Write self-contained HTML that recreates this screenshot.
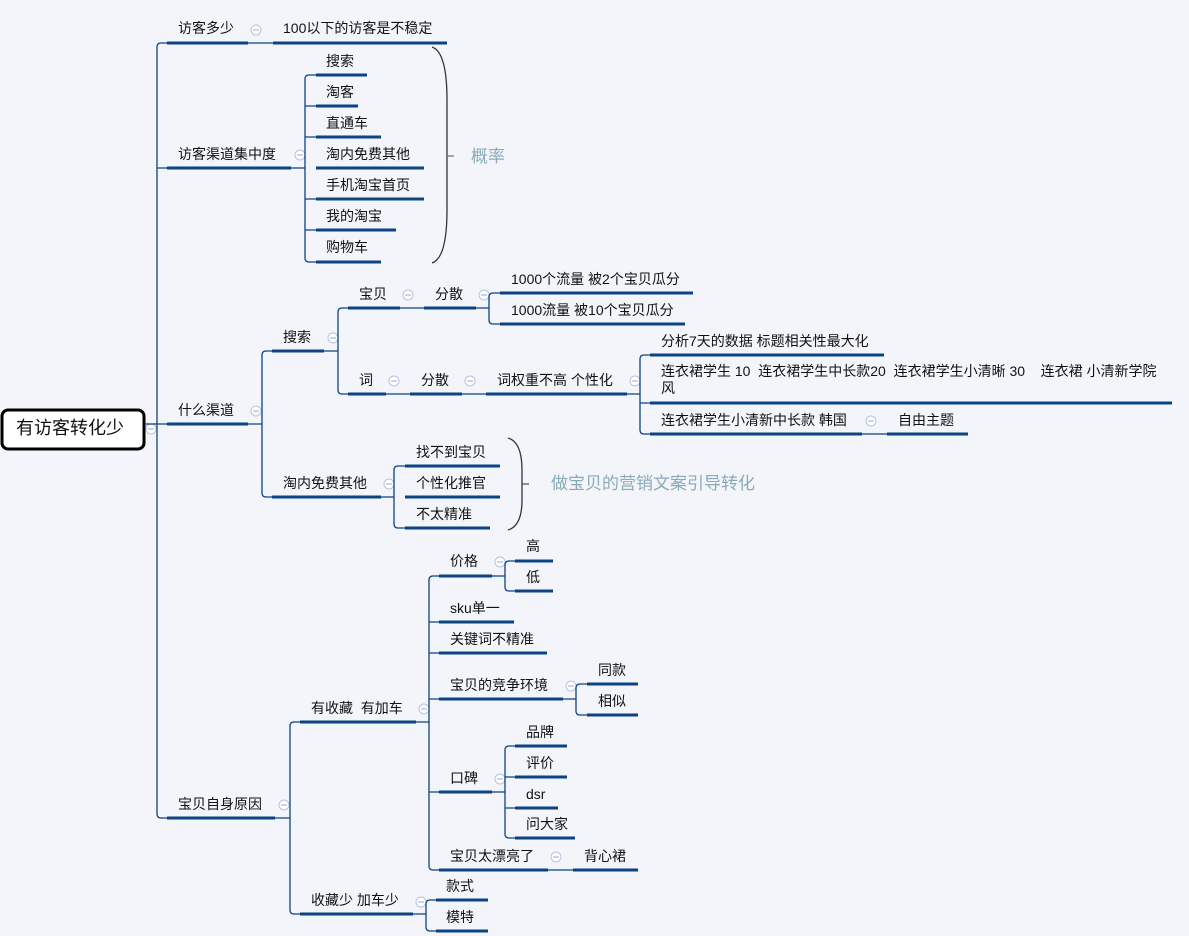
<!DOCTYPE html>
<html><head><meta charset="utf-8">
<style>
html,body{margin:0;padding:0;background:#f3f5fa;}
svg{display:block;}
text{font-family:"Liberation Sans","Noto Sans CJK SC",sans-serif;font-size:14px;fill:#111;}
.u{stroke:#0b4383;stroke-width:3;fill:none;}
.c{stroke:#0b4383;stroke-width:1.3;fill:none;}
.ic circle{fill:#fff;stroke:#b4c2e4;stroke-width:1;}
.ic line{stroke:#9aaad4;stroke-width:1;}
.big{font-size:17px;fill:#8aaab8;}
</style></head><body>
<svg width="1189" height="936" viewBox="0 0 1189 936" xmlns="http://www.w3.org/2000/svg">
<defs>
<g id="mi" class="ic"><circle cx="0" cy="0" r="5"/><line x1="-3" y1="0" x2="3" y2="0"/></g>
</defs>
<rect x="2" y="410" width="142" height="39" rx="6" fill="#fff" stroke="#000" stroke-width="3"/>
<text x="16" y="434" style="font-size:18px">有访客转化少</text>
<use href="#mi" x="151" y="429"/>
<path class="c" d="M145 424 L157 424"/>
<path class="c" d="M167 43 L161 43 Q157 43 157 47 L157 814 Q157 818 161 818 L167 818"/>
<path class="c" d="M157 168 L167 168 M157 424 L167 424"/>

<path class="u" d="M167 43 L248 43"/><text x="178" y="33">访客多少</text>
<use href="#mi" x="256" y="30"/>
<path class="c" d="M248 43 L273 43"/>
<path class="u" d="M273 43 L447 43"/><text x="283" y="33">100以下的访客是不稳定</text>

<path class="u" d="M167 168 L291 168"/><text x="178" y="159">访客渠道集中度</text>
<use href="#mi" x="300" y="155"/>
<path class="c" d="M291 168 L305 168 M316 75 L309 75 Q305 75 305 79 L305 258 Q305 262 309 262 L316 262 M305 106 L316 106 M305 137 L316 137 M305 199 L316 199 M305 230 L316 230"/>
<path class="u" d="M316 75 L367 75"/><text x="326" y="66">搜索</text>
<path class="u" d="M316 106 L358 106"/><text x="326" y="97">淘客</text>
<path class="u" d="M316 137 L381 137"/><text x="326" y="128">直通车</text>
<path class="u" d="M316 168 L424 168"/><text x="326" y="159">淘内免费其他</text>
<path class="u" d="M316 199 L424 199"/><text x="326" y="190">手机淘宝首页</text>
<path class="u" d="M316 230 L396 230"/><text x="326" y="221">我的淘宝</text>
<path class="u" d="M316 262 L381 262"/><text x="326" y="252">购物车</text>
<path d="M432 47 Q447 52 447 100 L447 210 Q447 258 432 263" stroke="#333" stroke-width="1.3" fill="none"/>
<path d="M447 156 L454 156" stroke="#777" stroke-width="1.3"/>
<text x="471" y="162" class="big">概率</text>

<path class="u" d="M167 424 L248 424"/><text x="178" y="415">什么渠道</text>
<use href="#mi" x="256" y="411"/>
<path class="c" d="M248 424 L262 424 M272 351 L266 351 Q262 351 262 355 L262 493 Q262 497 266 497 L272 497"/>
<path class="u" d="M272 351 L324 351"/><text x="283" y="342">搜索</text>
<use href="#mi" x="333" y="338"/>
<path class="c" d="M324 351 L338 351 M348 308 L342 308 Q338 308 338 312 L338 390 Q338 394 342 394 L348 394"/>
<path class="u" d="M348 308 L400 308"/><text x="359" y="299">宝贝</text>
<use href="#mi" x="408" y="295"/>
<path class="c" d="M400 308 L424 308"/>
<path class="u" d="M424 308 L476 308"/><text x="435" y="299">分散</text>
<use href="#mi" x="484" y="295"/>
<path class="c" d="M476 308 L489 308 M500 293 L493 293 Q489 293 489 297 L489 320 Q489 324 493 324 L500 324"/>
<path class="u" d="M500 293 L693 293"/><text x="511" y="284">1000个流量 被2个宝贝瓜分</text>
<path class="u" d="M500 324 L685 324"/><text x="511" y="315">1000流量 被10个宝贝瓜分</text>
<path class="u" d="M348 394 L386 394"/><text x="359" y="385">词</text>
<use href="#mi" x="394" y="381"/>
<path class="c" d="M386 394 L410 394"/>
<path class="u" d="M410 394 L462 394"/><text x="421" y="385">分散</text>
<use href="#mi" x="470" y="381"/>
<path class="c" d="M462 394 L486 394"/>
<path class="u" d="M486 394 L627 394"/><text x="497" y="385">词权重不高 个性化</text>
<use href="#mi" x="635" y="381"/>
<path class="c" d="M627 394 L640 394 M650 355 L644 355 Q640 355 640 359 L640 430 Q640 434 644 434 L650 434 M640 403 L650 403"/>
<path class="u" d="M650 355 L884 355"/><text x="661" y="346">分析7天的数据 标题相关性最大化</text>
<path class="u" d="M650 403 L1172 403"/><text x="661" y="376" xml:space="preserve" style="white-space:pre">连衣裙学生 10  连衣裙学生中长款20  连衣裙学生小清晰 30    连衣裙 小清新学院</text><text x="661" y="393">风</text>
<path class="u" d="M650 434 L862 434"/><text x="661" y="425">连衣裙学生小清新中长款 韩国</text>
<use href="#mi" x="871" y="421"/>
<path class="c" d="M862 434 L887 434"/>
<path class="u" d="M887 434 L968 434"/><text x="898" y="425">自由主题</text>
<path class="u" d="M272 497 L381 497"/><text x="283" y="488">淘内免费其他</text>
<use href="#mi" x="389" y="484"/>
<path class="c" d="M381 497 L394 497 M405 466 L398 466 Q394 466 394 470 L394 524 Q394 528 398 528 L405 528"/>
<path class="u" d="M405 466 L500 466"/><text x="416" y="457">找不到宝贝</text>
<path class="u" d="M405 497 L500 497"/><text x="416" y="488">个性化推官</text>
<path class="u" d="M405 528 L490 528"/><text x="416" y="519">不太精准</text>
<path d="M508 438 Q522 442 522 470 L522 500 Q522 526 508 530" stroke="#333" stroke-width="1.3" fill="none"/>
<path d="M522 484 L529 484" stroke="#555" stroke-width="1.3"/>
<text x="551" y="489" class="big">做宝贝的营销文案引导转化</text>

<path class="u" d="M167 818 L275 818"/><text x="178" y="809">宝贝自身原因</text>
<use href="#mi" x="284" y="805"/>
<path class="c" d="M275 818 L290 818 M300 722 L294 722 Q290 722 290 726 L290 910 Q290 914 294 914 L300 914"/>
<path class="u" d="M300 722 L416 722"/><text x="311" y="713" xml:space="preserve" style="white-space:pre">有收藏  有加车</text>
<use href="#mi" x="424" y="709"/>
<path class="c" d="M416 722 L429 722 M439 576 L433 576 Q429 576 429 580 L429 866 Q429 870 433 870 L439 870 M429 622 L439 622 M429 653 L439 653 M429 699 L439 699 M429 792 L439 792"/>
<path class="u" d="M439 576 L492 576"/><text x="450" y="566">价格</text>
<use href="#mi" x="500" y="562"/>
<path class="c" d="M492 576 L505 576 M515 561 L509 561 Q505 561 505 565 L505 587 Q505 591 509 591 L515 591"/>
<path class="u" d="M515 561 L553 561"/><text x="526" y="551">高</text>
<path class="u" d="M515 591 L553 591"/><text x="526" y="582">低</text>
<path class="u" d="M439 622 L514 622"/><text x="450" y="613">sku单一</text>
<path class="u" d="M439 653 L547 653"/><text x="450" y="644">关键词不精准</text>
<path class="u" d="M439 699 L563 699"/><text x="450" y="690">宝贝的竞争环境</text>
<use href="#mi" x="571" y="686"/>
<path class="c" d="M563 699 L576 699 M587 684 L580 684 Q576 684 576 688 L576 711 Q576 715 580 715 L587 715"/>
<path class="u" d="M587 684 L638 684"/><text x="598" y="675">同款</text>
<path class="u" d="M587 715 L638 715"/><text x="598" y="706">相似</text>
<path class="u" d="M439 792 L492 792"/><text x="450" y="783">口碑</text>
<use href="#mi" x="500" y="779"/>
<path class="c" d="M492 792 L505 792 M515 746 L509 746 Q505 746 505 750 L505 834 Q505 838 509 838 L515 838 M505 777 L515 777 M505 808 L515 808"/>
<path class="u" d="M515 746 L567 746"/><text x="526" y="737">品牌</text>
<path class="u" d="M515 777 L567 777"/><text x="526" y="768">评价</text>
<path class="u" d="M515 808 L558 808"/><text x="526" y="799">dsr</text>
<path class="u" d="M515 838 L575 838"/><text x="526" y="829">问大家</text>
<path class="u" d="M439 870 L548 870"/><text x="450" y="861">宝贝太漂亮了</text>
<use href="#mi" x="556" y="857"/>
<path class="c" d="M548 870 L573 870"/>
<path class="u" d="M573 870 L638 870"/><text x="584" y="861">背心裙</text>
<path class="u" d="M300 914 L413 914"/><text x="311" y="905">收藏少 加车少</text>
<use href="#mi" x="421" y="902"/>
<path class="c" d="M413 914 L426 914 M436 900 L430 900 Q426 900 426 904 L426 927 Q426 931 430 931 L436 931"/>
<path class="u" d="M436 900 L488 900"/><text x="446" y="891">款式</text>
<path class="u" d="M436 931 L488 931"/><text x="446" y="922">模特</text>
</svg>
</body></html>
